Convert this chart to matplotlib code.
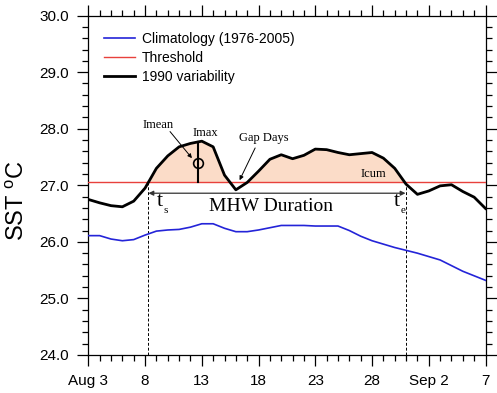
import matplotlib.pyplot as plt
from matplotlib.ticker import MultipleLocator, FixedLocator
import numpy as np

# days since Aug 3
days = np.arange(36)
sst_1990 = [26.75, 26.69, 26.64, 26.62, 26.72, 26.95, 27.30, 27.52, 27.68, 27.74,
            27.78, 27.68, 27.18, 26.92, 27.05, 27.25, 27.46, 27.54, 27.47, 27.53,
            27.64, 27.63, 27.58, 27.54, 27.56, 27.58, 27.48, 27.30, 27.02, 26.84,
            26.90, 26.99, 27.01, 26.89, 26.79, 26.59]
clim = [26.11, 26.11, 26.05, 26.02, 26.04, 26.12, 26.19, 26.21, 26.22, 26.26,
        26.32, 26.32, 26.24, 26.18, 26.18, 26.21, 26.25, 26.29, 26.29, 26.29,
        26.28, 26.28, 26.28, 26.20, 26.10, 26.02, 25.96, 25.90, 25.85, 25.80,
        25.74, 25.68, 25.58, 25.48, 25.40, 25.32]
threshold = 27.05
xtick_pos = [0, 5, 10, 15, 20, 25, 30, 35]
xtick_labels = ["Aug 3", "8", "13", "18", "23", "28", "Sep 2", "7"]
t_start, t_end = 5.3, 27.95
imax_day = 9.7

sans = ["Liberation Sans", "DejaVu Sans"]
serif = ["Liberation Serif", "DejaVu Serif"]
plt.rcParams["font.family"] = sans

sst = np.array(sst_1990)
fig = plt.figure(figsize=(4.97, 3.93), dpi=100)
ax = fig.add_axes([0.1777, 0.0967, 0.7992, 0.8636])

# event shading
m = (days >= 5) & (days <= 28)
ax.fill_between(days, threshold, sst, where=(sst > threshold) & m, interpolate=True,
                color="#fbdcc8", lw=0, zorder=1)

ax.plot(days, clim, color="#2424d8", lw=1.2, label="Climatology (1976-2005)", zorder=3)
ax.axhline(threshold, color="#e8413c", lw=1.0, label="Threshold", zorder=3)
ax.plot(days, sst, color="black", lw=2.0, label="1990 variability", zorder=4)

# start / end markers
for d in (t_start, t_end):
    ax.plot([d, d], [24, threshold], color="black", ls=(0, (3, 2)), lw=0.7, zorder=2)
ax.annotate("", xy=(t_start, 26.86), xytext=(t_end, 26.86),
            arrowprops=dict(arrowstyle="<|-|>", color="#333333", lw=0.9,
                            mutation_scale=7, shrinkA=0, shrinkB=0))
ax.text(6.33, 26.72, "t", family=serif, fontsize=16, ha="center", va="center")
ax.text(6.85, 26.55, "s", family=serif, fontsize=8, ha="center", va="center")
ax.text(27.15, 26.72, "t", family=serif, fontsize=16, ha="center", va="center")
ax.text(27.7, 26.55, "e", family=serif, fontsize=8, ha="center", va="center")
ax.text(16.1, 26.62, "MHW Duration", family=serif, fontsize=14, ha="center", va="center")

# intensity markers
ymax = np.interp(imax_day, days, sst)
ax.plot([imax_day, imax_day], [threshold, ymax], color="black", lw=1.5, zorder=5)
ax.plot(imax_day, 27.39, "o", mfc="none", mec="black", ms=7, mew=1.2, zorder=6)
ax.text(10.3, 27.92, "Imax", family=serif, fontsize=9, ha="center", va="center")
ax.text(6.19, 28.06, "Imean", family=serif, fontsize=9, ha="center", va="center")
ax.annotate("", xy=(9.13, 27.48), xytext=(7.2, 27.95),
            arrowprops=dict(arrowstyle="-|>", color="black", lw=0.7,
                            mutation_scale=6, shrinkA=0, shrinkB=0))
ax.text(15.45, 27.83, "Gap Days", family=serif, fontsize=9, ha="center", va="center")
ax.annotate("", xy=(13.33, 27.09), xytext=(14.7, 27.66),
            arrowprops=dict(arrowstyle="-|>", color="black", lw=0.7,
                            mutation_scale=6, shrinkA=0, shrinkB=0))
ax.text(25.15, 27.2, "Icum", family=serif, fontsize=9, ha="center", va="center")

ax.set_xlim(0, 35)
ax.set_ylim(24, 30)
ax.xaxis.set_major_locator(FixedLocator(xtick_pos))
ax.set_xticklabels(xtick_labels)
ax.xaxis.set_minor_locator(MultipleLocator(1))
ax.yaxis.set_major_locator(MultipleLocator(1))
ax.yaxis.set_minor_locator(MultipleLocator(0.2))
ax.yaxis.set_major_formatter(plt.FormatStrFormatter("%.1f"))
ax.tick_params(which="both", direction="out", top=True, right=True,
               labeltop=False, labelright=False, labelsize=11, width=0.9)
ax.tick_params(which="major", length=8, pad=6)
ax.tick_params(which="minor", length=4.5)
for s in ax.spines.values():
    s.set_linewidth(0.9)
ax.set_ylabel("SST $^{\\mathregular{o}}$C", fontsize=17)
ax.yaxis.set_label_coords(-0.15, 0.454)

ax.legend(loc="upper left", bbox_to_anchor=(0.0395, 0.952), frameon=False,
          fontsize=10, handlelength=2.2, handletextpad=0.5, labelspacing=0.35,
          borderpad=0, borderaxespad=0)

fig.savefig("out.png", dpi=100)
